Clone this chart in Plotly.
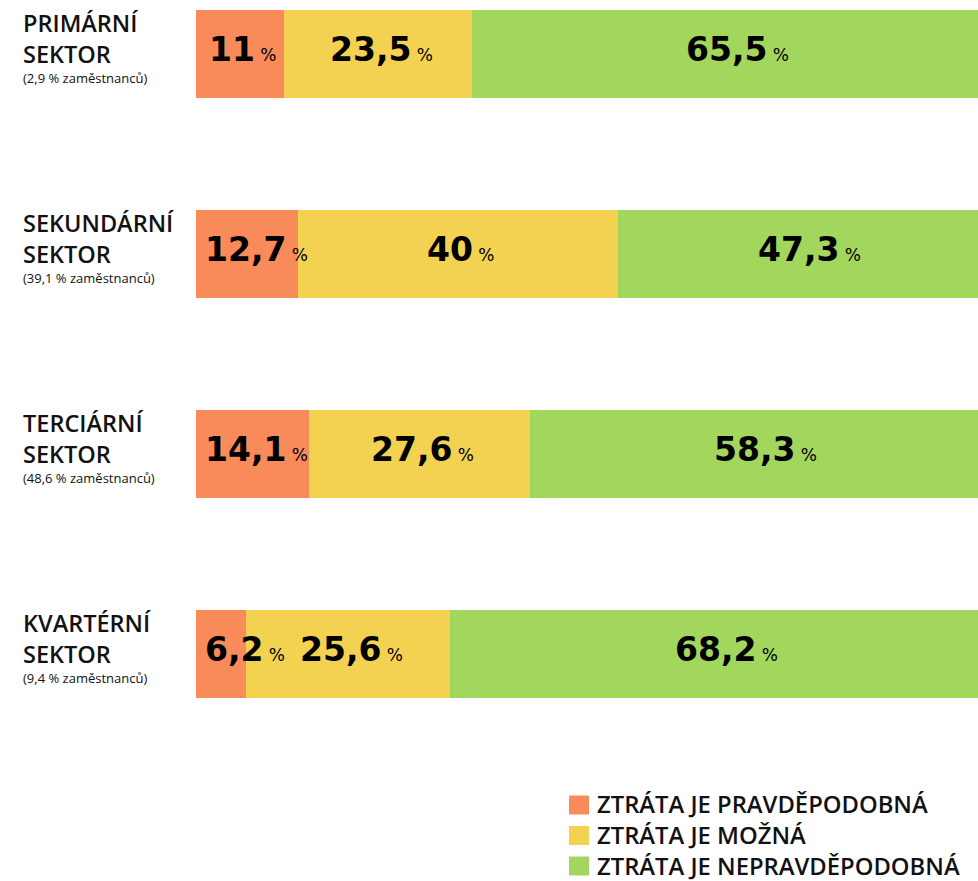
import plotly.graph_objects as go

# ---- data ----
sector_titles = ["PRIMÁRNÍ", "SEKUNDÁRNÍ", "TERCIÁRNÍ", "KVARTÉRNÍ"]
sector_shares = ["2,9", "39,1", "48,6", "9,4"]
series_names = ["ZTRÁTA JE PRAVDĚPODOBNÁ", "ZTRÁTA JE MOŽNÁ", "ZTRÁTA JE NEPRAVDĚPODOBNÁ"]
likely = [11, 12.7, 14.1, 6.2]
possible = [23.5, 40, 27.6, 25.6]
unlikely = [65.5, 47.3, 58.3, 68.2]
colors = ["#F98A5A", "#F2D250", "#A3D65C"]

series_values = [likely, possible, unlikely]
cats = list(range(len(sector_titles)))

W, H = 978, 881
ML, MR, MT, MB = 196, 0, 0, 127
PW = W - ML - MR
PH = H - MT - MB
PX_PER_PCT = 8.0          # the full 100 % bar is 800 px wide and runs past the right edge
XMAX = PW / PX_PER_PCT

def xp(px):
    return (px - ML) / PW

def yp(py):
    return (PH + MT - py) / PH

fig = go.Figure()
for name, vals, col in zip(series_names, series_values, colors):
    fig.add_trace(go.Bar(
        y=cats, x=vals, name=name, orientation="h",
        marker=dict(color=col, line=dict(width=0)),
        width=0.44, showlegend=False, hoverinfo="x+name",
    ))

def fmt(v):
    return ("%g" % v).replace(".", ",")

annotations = []
# value labels
for i in cats:
    start = 0.0
    for vals in series_values:
        v = vals[i]
        s = fmt(v)
        w = sum(12.5 if c == "," else 23 for c in s) + 21
        seg_half = v * PX_PER_PCT / 2
        shift = max(3, w / 2 + 9 - seg_half - start * PX_PER_PCT)
        annotations.append(dict(
            x=start + v / 2, y=i, xref="x", yref="y",
            text="<b>%s</b><span style='font-size:17px;font-weight:normal'> %%</span>" % s,
            showarrow=False, xanchor="center", yanchor="middle",
            xshift=shift, yshift=4.5,
            font=dict(family="DejaVu Sans", size=33, color="#000000"),
        ))
        start += v

# category labels
lab_font = dict(family="Open Sans", size=23.5, color="#111111", weight=600)
for i, (t, sh) in enumerate(zip(sector_titles, sector_shares)):
    annotations.append(dict(x=xp(21), y=i, xref="paper", yref="y", text=t,
                            showarrow=False, xanchor="left", yanchor="middle", yshift=31,
                            font=lab_font))
    annotations.append(dict(x=xp(21), y=i, xref="paper", yref="y", text="SEKTOR",
                            showarrow=False, xanchor="left", yanchor="middle", yshift=0,
                            font=lab_font))
    annotations.append(dict(x=xp(21), y=i, xref="paper", yref="y",
                            text="(%s %% zaměstnanců)" % sh,
                            showarrow=False, xanchor="left", yanchor="middle", yshift=-23.5,
                            font=dict(family="Open Sans", size=13, color="#111111")))

# legend (manual)
shapes = []
leg_top = 795.5
for k, (name, col) in enumerate(zip(series_names, colors)):
    y0 = leg_top + k * 30.5
    shapes.append(dict(type="rect", xref="paper", yref="paper",
                       x0=xp(569), x1=xp(589), y0=yp(y0 + 19), y1=yp(y0),
                       fillcolor=col, line=dict(width=0)))
    annotations.append(dict(x=xp(595), y=yp(y0 + 9), xref="paper", yref="paper",
                            text=name, showarrow=False, xanchor="left", yanchor="middle",
                            font=dict(family="Open Sans", size=23.8, color="#111111", weight=600)))

fig.update_layout(
    width=W, height=H,
    margin=dict(l=ML, r=MR, t=MT, b=MB, pad=0),
    barmode="stack", bargap=0,
    plot_bgcolor="white", paper_bgcolor="white",
    xaxis=dict(range=[0, XMAX], visible=False, fixedrange=True),
    yaxis=dict(range=[3.5, -0.27], visible=False, fixedrange=True),
    annotations=annotations, shapes=shapes,
    showlegend=False,
)

fig.write_html("out.html", config={"displayModeBar": False},
               post_script="document.body.style.margin='0';document.body.style.overflow='hidden';")
